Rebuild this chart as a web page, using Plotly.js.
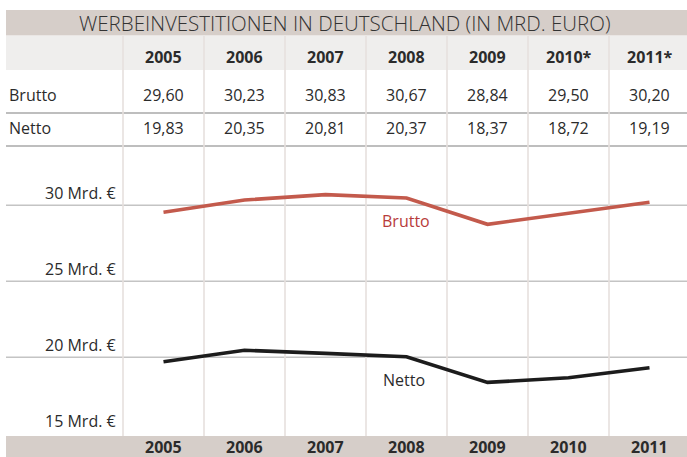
<!DOCTYPE html>
<html>
<head>
<meta charset="utf-8">
<script src="https://cdn.plot.ly/plotly-3.0.1.min.js"></script>
<style>html,body{margin:0;padding:0;background:#fff;}#chart{width:687px;height:457px;}</style>
</head>
<body>
<div id="chart"></div>
<script>
// ---- data ----
const years = [2005, 2006, 2007, 2008, 2009, 2010, 2011];
const headerLabels = ['2005', '2006', '2007', '2008', '2009', '2010*', '2011*'];
const axisYearLabels = ['2005', '2006', '2007', '2008', '2009', '2010', '2011'];
const bruttoTable = ['29,60', '30,23', '30,83', '30,67', '28,84', '29,50', '30,20'];
const nettoTable = ['19,83', '20,35', '20,81', '20,37', '18,37', '18,72', '19,19'];
const bruttoLine = [29.54, 30.35, 30.70, 30.48, 28.75, 29.45, 30.20];
const nettoLine = [19.71, 20.46, 20.26, 20.04, 18.35, 18.65, 19.31];
const yTickVals = [30, 25, 20, 15];
const yTickText = ['30 Mrd. €', '25 Mrd. €', '20 Mrd. €', '15 Mrd. €'];
const gridVals = [30, 25, 20];
const titleText = 'WERBEINVESTITIONEN IN DEUTSCHLAND (IN MRD. EURO)';
const rowLabels = ['Brutto', 'Netto'];

// ---- layout helpers ----
const W = 687, H = 457;
const px = x => x / W;
const py = y => 1 - y / H;
const FONT = 'Open Sans, Noto Sans, sans-serif';
const TXT = '#2b2b2b';
const BAR = '#d6cec9';

const shapes = [];
const annotations = [];

function rectPx(x0, y0, x1, y1, fill) {
  shapes.push({type: 'rect', xref: 'paper', yref: 'paper', x0: px(x0), x1: px(x1),
    y0: py(y1), y1: py(y0), fillcolor: fill, line: {width: 0}, layer: 'below'});
}
rectPx(6, 10, 687, 35.5, BAR);
rectPx(6, 36, 687, 70, '#efeeed');
rectPx(6, 436, 687, 457, BAR);

// row separators
[113, 146].forEach(y => shapes.push({type: 'line', xref: 'paper', yref: 'paper',
  x0: px(6), x1: 1, y0: py(y), y1: py(y), line: {color: '#a9a9a9', width: 1.5}, layer: 'below'}));

// horizontal grid lines
gridVals.forEach(v => shapes.push({type: 'line', xref: 'paper', yref: 'y',
  x0: px(6), x1: 1, y0: v, y1: v, line: {color: '#c4c4c4', width: 1.6}, layer: 'below'}));

// column separators
years.forEach(yr => shapes.push({type: 'line', xref: 'x', yref: 'paper',
  x0: yr - 0.5, x1: yr - 0.5, y0: py(436), y1: py(36), line: {color: '#e6e0de', width: 1.6}, layer: 'below'}));

// title
annotations.push({text: titleText, xref: 'paper', yref: 'paper', x: px(344), y: py(23),
  xanchor: 'center', yanchor: 'middle', showarrow: false, borderpad: 0,
  font: {family: FONT, size: 20.5, color: '#333', weight: 300}});

// table header & rows
years.forEach((yr, i) => {
  annotations.push({text: headerLabels[i], xref: 'x', yref: 'paper', x: yr, y: py(57),
    xanchor: 'center', yanchor: 'middle', showarrow: false,
    font: {family: FONT, size: 16, color: TXT, weight: 700}});
  annotations.push({text: bruttoTable[i], xref: 'x', yref: 'paper', x: yr, y: py(95),
    xanchor: 'center', yanchor: 'middle', showarrow: false,
    font: {family: FONT, size: 16, color: TXT}});
  annotations.push({text: nettoTable[i], xref: 'x', yref: 'paper', x: yr, y: py(128),
    xanchor: 'center', yanchor: 'middle', showarrow: false,
    font: {family: FONT, size: 16, color: TXT}});
  annotations.push({text: axisYearLabels[i], xref: 'x', yref: 'paper', x: yr, y: py(446.5),
    xanchor: 'center', yanchor: 'middle', showarrow: false, borderpad: 0,
    font: {family: FONT, size: 16, color: TXT, weight: 700}});
});
[95, 128].forEach((y, i) => annotations.push({text: rowLabels[i], xref: 'paper', yref: 'paper',
  x: px(7), y: py(y), xanchor: 'left', yanchor: 'middle', showarrow: false,
  font: {family: FONT, size: 16, color: TXT}}));

// y labels
yTickVals.forEach((v, i) => annotations.push({text: yTickText[i], xref: 'paper', yref: 'y',
  x: px(118), y: v, yshift: 12, xanchor: 'right', yanchor: 'middle', showarrow: false,
  font: {family: FONT, size: 16, color: TXT}}));

// series labels
annotations.push({text: 'Brutto', xref: 'paper', yref: 'paper', x: px(406), y: py(221),
  xanchor: 'center', yanchor: 'middle', showarrow: false,
  font: {family: FONT, size: 16, color: '#b73b3b'}});
annotations.push({text: 'Netto', xref: 'paper', yref: 'paper', x: px(404), y: py(380),
  xanchor: 'center', yanchor: 'middle', showarrow: false,
  font: {family: FONT, size: 16, color: TXT}});

const traces = [
  {x: years, y: bruttoLine, type: 'scatter', mode: 'lines', name: 'Brutto',
   line: {color: '#c35a4c', width: 3.6}, hoverinfo: 'skip'},
  {x: years, y: nettoLine, type: 'scatter', mode: 'lines', name: 'Netto',
   line: {color: '#1c1c1c', width: 3.6}, hoverinfo: 'skip'}
];

const layout = {
  width: W, height: H,
  margin: {l: 0, r: 0, t: 0, b: 0, pad: 0},
  paper_bgcolor: '#fff', plot_bgcolor: 'rgba(0,0,0,0)',
  showlegend: false,
  xaxis: {range: [2005 - 163.5 / 81, 2005 + 523.5 / 81], visible: false, fixedrange: true},
  yaxis: {range: [30 - (457 - 205.3) / 15.2, 30 + 205.3 / 15.2], visible: false, fixedrange: true},
  shapes: shapes,
  annotations: annotations,
  font: {family: FONT}
};

Plotly.newPlot('chart', traces, layout, {staticPlot: true, displayModeBar: false});
</script>
</body>
</html>
